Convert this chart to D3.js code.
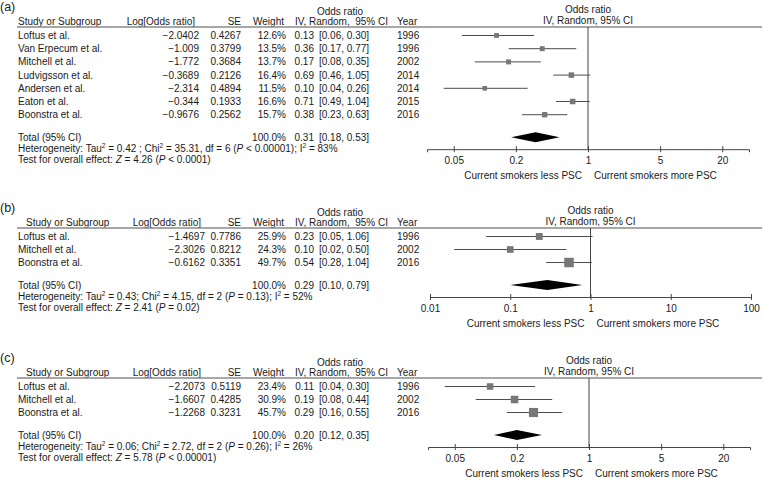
<!DOCTYPE html>
<html>
<head>
<meta charset="utf-8">
<script src="https://cdn.jsdelivr.net/npm/d3@7"></script>
<style>
  html, body { margin: 0; padding: 0; background: #fff; }
  svg { display: block; }
  text { font-family: "Liberation Sans", Arial, Helvetica, sans-serif; fill: #1a1a1a; }
</style>
</head>
<body>
<svg id="chart" width="764" height="478"></svg>
<script>
// ---------- DATA ----------
// Panel (a)
const studiesA = ["Loftus et al.", "Van Erpecum et al.", "Mitchell et al.", "Ludvigsson et al.", "Andersen et al.", "Eaton et al.", "Boonstra et al."];
const logOrA = ["−2.0402", "−1.009", "−1.772", "−0.3689", "−2.314", "−0.344", "−0.9676"];
const seA = ["0.4267", "0.3799", "0.3684", "0.2126", "0.4894", "0.1933", "0.2562"];
const weightA = [12.6, 13.5, 13.7, 16.4, 11.5, 16.6, 15.7];
const orA = [0.13, 0.36, 0.17, 0.69, 0.10, 0.71, 0.38];
const lowA = [0.06, 0.17, 0.08, 0.46, 0.04, 0.49, 0.23];
const highA = [0.30, 0.77, 0.35, 1.05, 0.26, 1.04, 0.63];
const yearA = [1996, 1996, 2002, 2014, 2014, 2015, 2016];
const totalA = [0.31, 0.18, 0.53];
const hetA = "Heterogeneity: Tau^2 = 0.42 ; Chi^2 = 35.31, df = 6 (*P* < 0.00001); I^2 = 83%";
const testA = "Test for overall effect: *Z* = 4.26 (*P* < 0.0001)";
const ticksA = [0.05, 0.2, 1, 5, 20];

// Panel (b)
const studiesB = ["Loftus et al.", "Mitchell et al.", "Boonstra et al."];
const logOrB = ["−1.4697", "−2.3026", "−0.6162"];
const seB = ["0.7786", "0.8212", "0.3351"];
const weightB = [25.9, 24.3, 49.7];
const orB = [0.23, 0.10, 0.54];
const lowB = [0.05, 0.02, 0.28];
const highB = [1.06, 0.50, 1.04];
const yearB = [1996, 2002, 2016];
const totalB = [0.29, 0.10, 0.79];
const hetB = "Heterogeneity: Tau^2 = 0.43; Chi^2 = 4.15, df = 2 (*P* = 0.13); I^2 = 52%";
const testB = "Test for overall effect: *Z* = 2.41 (*P* = 0.02)";
const ticksB = [0.01, 0.1, 1, 10, 100];

// Panel (c)
const studiesC = ["Loftus et al.", "Mitchell et al.", "Boonstra et al."];
const logOrC = ["−2.2073", "−1.6607", "−1.2268"];
const seC = ["0.5119", "0.4285", "0.3231"];
const weightC = [23.4, 30.9, 45.7];
const orC = [0.11, 0.19, 0.29];
const lowC = [0.04, 0.08, 0.16];
const highC = [0.30, 0.44, 0.55];
const yearC = [1996, 2002, 2016];
const totalC = [0.20, 0.12, 0.35];
const hetC = "Heterogeneity: Tau^2 = 0.06; Chi^2 = 2.72, df = 2 (*P* = 0.26); I^2 = 26%";
const testC = "Test for overall effect: *Z* = 5.78 (*P* < 0.00001)";
const ticksC = [0.05, 0.2, 1, 5, 20];

const headers = ["Study or Subgroup", "Log[Odds ratio]", "SE", "Weight", "IV, Random,  95% CI", "Year"];
const favourLeft = "Current smokers less PSC";
const favourRight = "Current smokers more PSC";

// ---------- DRAW ----------
const svg = d3.select("#chart");
const FS = 10;

function richText(g, str, x, y) {
  const t = g.append("text").attr("x", x).attr("y", y).attr("font-size", FS);
  const parts = str.split(/(\^\d|\*[^*]+\*)/).filter(s => s.length);
  let shifted = false;
  parts.forEach(p => {
    if (p.startsWith("^")) {
      t.append("tspan").attr("dy", -4).attr("font-size", 6.5).text(p.slice(1));
      shifted = true;
    } else {
      const sp = t.append("tspan");
      if (shifted) { sp.attr("dy", 4); shifted = false; }
      if (p.startsWith("*")) sp.attr("font-style", "italic").text(p.slice(1, -1));
      else sp.text(p);
    }
  });
}

function panel(cfg) {
  const g = svg.append("g");
  const L = cfg.lineY;
  const n = cfg.studies.length;
  const rowStep = cfg.rowStep;
  const rowY = i => L + 8.5 + i * rowStep;
  const totalY = rowY(n - 1) + 22.5;
  const axisY = totalY + 12;

  const x = d3.scaleLog().domain(cfg.domain).range([cfg.x0, cfg.x1]);
  const xc = x(1);

  // panel label
  g.append("text").attr("x", 0).attr("y", L - 16).attr("font-size", 12.5).text(cfg.label);

  // table header
  g.append("text").attr("x", 340).attr("y", L - 12).attr("font-size", FS).attr("text-anchor", "middle").text("Odds ratio");
  g.append("text").attr("x", cfg.studyHeadX).attr("y", L - 2.5).attr("font-size", FS).text(headers[0]);
  g.append("text").attr("x", cfg.logEnd - 4).attr("y", L - 2.5).attr("font-size", FS).attr("text-anchor", "end").text(headers[1]);
  g.append("text").attr("x", 241).attr("y", L - 2.5).attr("font-size", FS).attr("text-anchor", "end").text(headers[2]);
  g.append("text").attr("x", 284).attr("y", L - 2.5).attr("font-size", FS).attr("text-anchor", "end").text(headers[3]);
  g.append("text").attr("x", 295).attr("y", L - 2.5).attr("font-size", FS).style("white-space", "pre").text(headers[4]);
  g.append("text").attr("x", 397).attr("y", L - 2.5).attr("font-size", FS).text(headers[5]);

  // plot header
  g.append("text").attr("x", xc).attr("y", L - 14.5).attr("font-size", FS).attr("text-anchor", "middle").text("Odds ratio");
  g.append("text").attr("x", xc).attr("y", L - 3).attr("font-size", FS).attr("text-anchor", "middle").text("IV, Random, 95% CI");

  // header rule
  g.append("line").attr("x1", 17).attr("x2", 762).attr("y1", L).attr("y2", L)
    .attr("stroke", "#8a8a8a").attr("stroke-width", 1.3);

  // rows
  cfg.studies.forEach((s, i) => {
    const y = rowY(i) + 3.5;
    g.append("text").attr("x", 18).attr("y", y).attr("font-size", FS).text(s);
    g.append("text").attr("x", cfg.logEnd).attr("y", y).attr("font-size", FS).attr("text-anchor", "end").text(cfg.logOr[i]);
    g.append("text").attr("x", 241).attr("y", y).attr("font-size", FS).attr("text-anchor", "end").text(cfg.se[i]);
    g.append("text").attr("x", 286).attr("y", y).attr("font-size", FS).attr("text-anchor", "end").text(cfg.weight[i].toFixed(1) + "%");
    g.append("text").attr("x", 314).attr("y", y).attr("font-size", FS).attr("text-anchor", "end").text(cfg.or[i].toFixed(2));
    g.append("text").attr("x", 319).attr("y", y).attr("font-size", FS)
      .text("[" + cfg.low[i].toFixed(2) + ", " + cfg.high[i].toFixed(2) + "]");
    g.append("text").attr("x", 397).attr("y", y).attr("font-size", FS).text(cfg.year[i]);
  });

  // total row
  const ty = totalY + 3.5;
  g.append("text").attr("x", 18).attr("y", ty).attr("font-size", FS).text("Total (95% CI)");
  g.append("text").attr("x", 286).attr("y", ty).attr("font-size", FS).attr("text-anchor", "end").text("100.0%");
  g.append("text").attr("x", 314).attr("y", ty).attr("font-size", FS).attr("text-anchor", "end").text(cfg.total[0].toFixed(2));
  g.append("text").attr("x", 319).attr("y", ty).attr("font-size", FS)
    .text("[" + cfg.total[1].toFixed(2) + ", " + cfg.total[2].toFixed(2) + "]");
  richText(g, cfg.het, 18, ty + 11);
  richText(g, cfg.test, 18, ty + 22);

  // null line
  g.append("line").attr("x1", xc).attr("x2", xc).attr("y1", L).attr("y2", axisY)
    .attr("stroke", "#444").attr("stroke-width", 1);

  // CIs and squares
  cfg.studies.forEach((s, i) => {
    const y = rowY(i);
    g.append("line").attr("x1", x(cfg.low[i])).attr("x2", x(cfg.high[i])).attr("y1", y).attr("y2", y)
      .attr("stroke", "#4d4d4d").attr("stroke-width", 1);
    const side = 1.35 * Math.sqrt(cfg.weight[i]);
    g.append("rect").attr("x", x(cfg.or[i]) - side / 2).attr("y", y - side / 2)
      .attr("width", side).attr("height", side).attr("fill", "#777");
  });

  // diamond
  const dh = 5;
  g.append("path")
    .attr("d", `M${x(cfg.total[1])},${totalY} L${x(cfg.total[0])},${totalY - dh} L${x(cfg.total[2])},${totalY} L${x(cfg.total[0])},${totalY + dh} Z`)
    .attr("fill", "#000");

  // axis
  const ax = g.append("g").attr("transform", `translate(0,${axisY})`)
    .call(d3.axisBottom(x).tickValues(cfg.ticks).tickFormat(d => String(d)).tickSizeOuter(0).tickSize(3));
  ax.select(".domain").attr("stroke", "#444");
  ax.selectAll(".tick line").attr("y1", -3).attr("y2", 3).attr("stroke", "#444");
  ax.selectAll(".tick text").attr("y", 8).attr("font-size", FS)
    .attr("font-family", "Liberation Sans, Arial, sans-serif").attr("fill", "#1a1a1a");

  // favours labels
  g.append("text").attr("x", xc - 6).attr("y", axisY + 29.5).attr("font-size", FS).attr("text-anchor", "end").text(favourLeft);
  g.append("text").attr("x", xc + 6).attr("y", axisY + 29.5).attr("font-size", FS).text(favourRight);
}

panel({
  label: "(a)", lineY: 27, rowStep: 13.2, studyHeadX: 18, logEnd: 199,
  studies: studiesA, logOr: logOrA, se: seA, weight: weightA, or: orA, low: lowA, high: highA, year: yearA,
  total: totalA, het: hetA, test: testA, ticks: ticksA,
  domain: [Math.pow(10, -1.56), Math.pow(10, 1.56)], x0: 427, x1: 749
});
panel({
  label: "(b)", lineY: 228, rowStep: 13, studyHeadX: 26, logEnd: 205,
  studies: studiesB, logOr: logOrB, se: seB, weight: weightB, or: orB, low: lowB, high: highB, year: yearB,
  total: totalB, het: hetB, test: testB, ticks: ticksB,
  domain: [0.01, 100], x0: 430, x1: 751
});
panel({
  label: "(c)", lineY: 378, rowStep: 13, studyHeadX: 26, logEnd: 205,
  studies: studiesC, logOr: logOrC, se: seC, weight: weightC, or: orC, low: lowC, high: highC, year: yearC,
  total: totalC, het: hetC, test: testC, ticks: ticksC,
  domain: [Math.pow(10, -1.56), Math.pow(10, 1.56)], x0: 428, x1: 750
});
</script>
</body>
</html>
